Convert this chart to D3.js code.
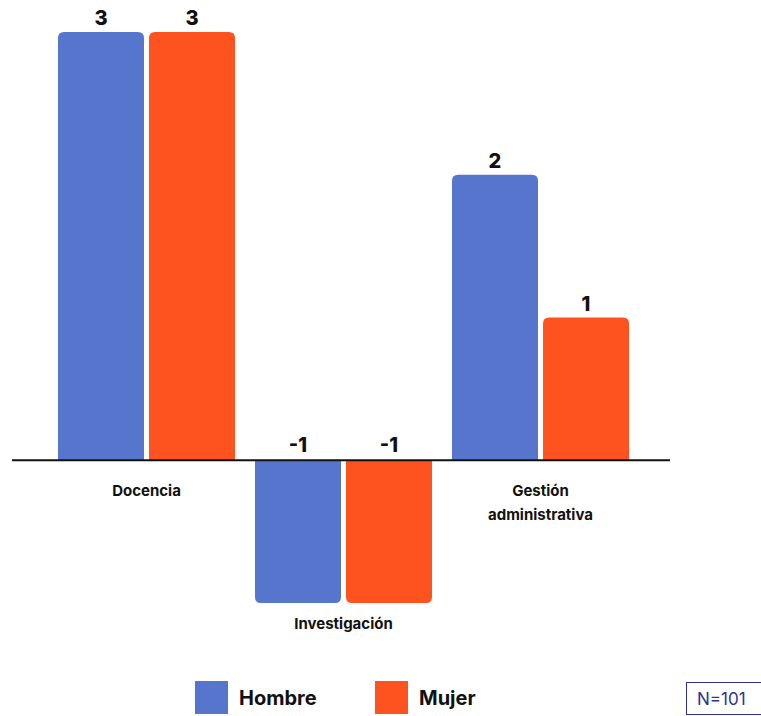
<!DOCTYPE html>
<html>
<head>
<meta charset="utf-8">
<script src="https://cdn.jsdelivr.net/npm/d3@7"></script>
<style>
  html, body { margin: 0; padding: 0; background: #ffffff; }
  svg { display: block; font-family: Inter, Roboto, "Noto Sans", sans-serif; }
</style>
</head>
<body>
<svg id="chart" width="761" height="716"></svg>
<script>
// Data
const categories = ["Docencia", "Investigación", "Gestión administrativa"];
const categoryLines = [["Docencia"], ["Investigación"], ["Gestión", "administrativa"]];
const seriesNames = ["Hombre", "Mujer"];
const hombre = [3, -1, 2];
const mujer = [3, -1, 1];
const seriesValues = [hombre, mujer];
const colors = ["#5676CE", "#FF531F"];
const sampleNote = "N=101";

const svg = d3.select("#chart");

const x0 = d3.scaleBand().domain(categories).range([58, 629]).paddingInner(20 / 197).paddingOuter(0);
const x1 = d3.scaleBand().domain(seriesNames).range([0, x0.bandwidth()]).paddingInner(5 / 91).paddingOuter(0);
const y = d3.scaleLinear().domain([-1, 3]).range([603, 32]);

const rows = categories.map((c, i) => ({
  cat: c, lines: categoryLines[i],
  vals: seriesNames.map((s, j) => ({ cat: c, s, v: seriesValues[j][i], color: colors[j] }))
}));

// Bar with rounded corners on the end away from zero
function barPath(x, w, y0, y1, r) {
  if (y1 < y0) { // positive, rounded top
    return `M${x},${y0} V${y1 + r} Q${x},${y1} ${x + r},${y1} H${x + w - r} Q${x + w},${y1} ${x + w},${y1 + r} V${y0} Z`;
  } else { // negative, rounded bottom
    return `M${x},${y0} V${y1 - r} Q${x},${y1} ${x + r},${y1} H${x + w - r} Q${x + w},${y1} ${x + w},${y1 - r} V${y0} Z`;
  }
}

const g = svg.selectAll("g.cat").data(rows).join("g")
  .attr("class", "cat")
  .attr("transform", d => `translate(${x0(d.cat)},0)`);

g.selectAll("path.bar").data(d => d.vals).join("path")
  .attr("class", "bar")
  .attr("fill", d => d.color)
  .attr("d", d => barPath(x1(d.s), x1.bandwidth(), y(0), y(d.v), 6));

// Value labels
g.selectAll("text.val").data(d => d.vals).join("text")
  .attr("class", "val")
  .attr("x", d => x1(d.s) + x1.bandwidth() / 2)
  .attr("y", d => d.v >= 0 ? y(d.v) - 7 : y(0) - 8)
  .attr("text-anchor", "middle")
  .attr("font-size", 20)
  .attr("font-weight", 800)
  .attr("fill", "#111")
  .text(d => d.v);

// Zero line
svg.append("line")
  .attr("x1", 12).attr("x2", 670)
  .attr("y1", y(0)).attr("y2", y(0))
  .attr("stroke", "#111").attr("stroke-width", 2);

// Category labels
g.each(function (d) {
  const neg = d.vals.every(v => v.v < 0);
  const baseY = neg ? y(-1) + 26 : y(0) + 36;
  const t = d3.select(this).append("text")
    .attr("text-anchor", "middle")
    .attr("font-size", 15)
    .attr("font-weight", 700)
    .attr("fill", "#111");
  d.lines.forEach((ln, i) => {
    t.append("tspan").attr("x", x0.bandwidth() / 2).attr("y", baseY + i * 24).text(ln);
  });
});

// Legend
const legendX = [195, 375];
seriesNames.forEach((s, i) => {
  svg.append("rect").attr("x", legendX[i]).attr("y", 681).attr("width", 33).attr("height", 33).attr("fill", colors[i]);
  svg.append("text").attr("x", legendX[i] + 44).attr("y", 705)
    .attr("font-size", 20).attr("font-weight", 700).attr("fill", "#111").text(s);
});

// Sample size box
svg.append("rect").attr("x", 686.5).attr("y", 682.5).attr("width", 80).attr("height", 32)
  .attr("fill", "none").attr("stroke", "#2e3192").attr("stroke-width", 1);
svg.append("text").attr("x", 697).attr("y", 705).attr("font-size", 17)
  .attr("fill", "#2e3192").text(sampleNote);
</script>
</body>
</html>
